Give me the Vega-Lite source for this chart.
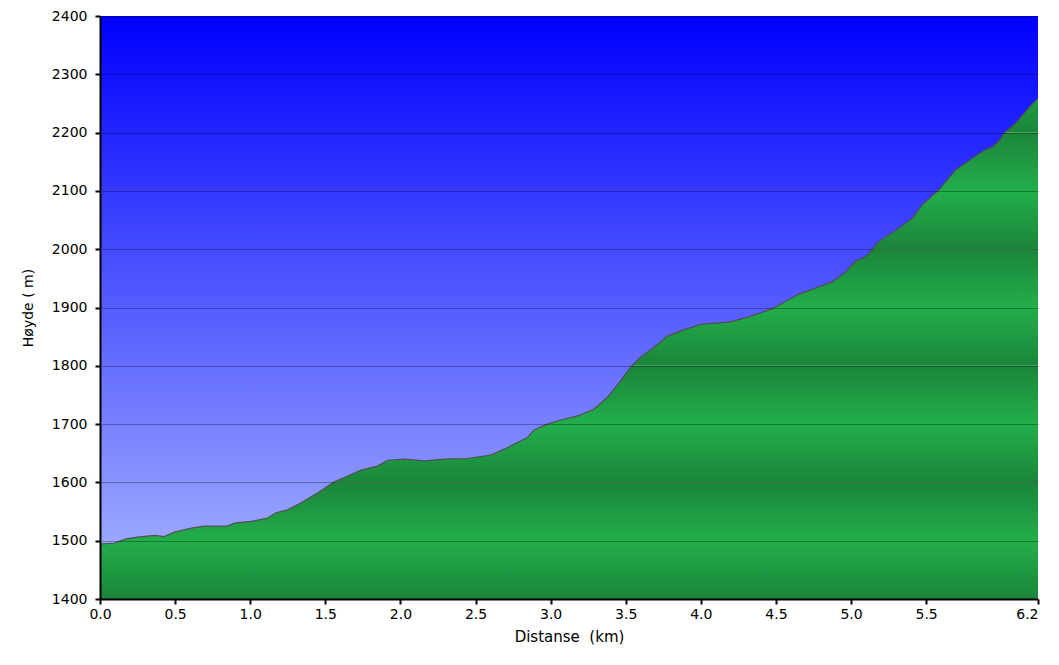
{
  "$schema": "https://vega.github.io/schema/vega-lite/v6.json",
  "width": 938,
  "height": 583,
  "autosize": "none",
  "padding": {"left": 100, "top": 16, "right": 21, "bottom": 66},
  "background": "#ffffff",
  "config": {
    "view": {"stroke": null},
    "font": "DejaVu Sans",
    "axis": {
      "labelFont": "DejaVu Sans",
      "titleFont": "DejaVu Sans",
      "labelColor": "#000000",
      "titleColor": "#000000",
      "titleFontWeight": "normal",
      "domainColor": "#000000",
      "domainWidth": 2,
      "tickColor": "#000000",
      "tickWidth": 2,
      "tickSize": 5,
      "labelFontSize": 14
    }
  },
  "datasets": {
    "profile": [
      {"d": 0.0, "elev": 1494},
      {"d": 0.096, "elev": 1496},
      {"d": 0.174, "elev": 1503},
      {"d": 0.251, "elev": 1506},
      {"d": 0.363, "elev": 1509},
      {"d": 0.429, "elev": 1507},
      {"d": 0.496, "elev": 1515},
      {"d": 0.617, "elev": 1522},
      {"d": 0.695, "elev": 1525},
      {"d": 0.850, "elev": 1525},
      {"d": 0.895, "elev": 1530},
      {"d": 1.006, "elev": 1533},
      {"d": 1.116, "elev": 1539},
      {"d": 1.172, "elev": 1548},
      {"d": 1.250, "elev": 1553},
      {"d": 1.339, "elev": 1565},
      {"d": 1.449, "elev": 1582},
      {"d": 1.560, "elev": 1601},
      {"d": 1.649, "elev": 1611},
      {"d": 1.738, "elev": 1621},
      {"d": 1.848, "elev": 1628},
      {"d": 1.915, "elev": 1638},
      {"d": 2.026, "elev": 1640},
      {"d": 2.159, "elev": 1637},
      {"d": 2.292, "elev": 1640},
      {"d": 2.447, "elev": 1641},
      {"d": 2.603, "elev": 1647},
      {"d": 2.691, "elev": 1657},
      {"d": 2.758, "elev": 1666},
      {"d": 2.846, "elev": 1677},
      {"d": 2.891, "elev": 1690},
      {"d": 2.979, "elev": 1700},
      {"d": 3.069, "elev": 1707},
      {"d": 3.179, "elev": 1714},
      {"d": 3.290, "elev": 1726},
      {"d": 3.379, "elev": 1746},
      {"d": 3.468, "elev": 1775},
      {"d": 3.534, "elev": 1798},
      {"d": 3.601, "elev": 1815},
      {"d": 3.689, "elev": 1832},
      {"d": 3.778, "elev": 1851},
      {"d": 3.889, "elev": 1862},
      {"d": 4.000, "elev": 1871},
      {"d": 4.188, "elev": 1875},
      {"d": 4.321, "elev": 1884},
      {"d": 4.476, "elev": 1898},
      {"d": 4.654, "elev": 1923},
      {"d": 4.876, "elev": 1944},
      {"d": 4.965, "elev": 1961},
      {"d": 5.031, "elev": 1980},
      {"d": 5.098, "elev": 1987},
      {"d": 5.186, "elev": 2013},
      {"d": 5.319, "elev": 2036},
      {"d": 5.408, "elev": 2053},
      {"d": 5.474, "elev": 2076},
      {"d": 5.585, "elev": 2102},
      {"d": 5.697, "elev": 2136},
      {"d": 5.807, "elev": 2156},
      {"d": 5.896, "elev": 2171},
      {"d": 5.940, "elev": 2175},
      {"d": 5.996, "elev": 2189},
      {"d": 6.018, "elev": 2199},
      {"d": 6.096, "elev": 2216},
      {"d": 6.162, "elev": 2236},
      {"d": 6.229, "elev": 2255},
      {"d": 6.245, "elev": 2258}
    ],
    "bands": [
      {"lo": 1400, "hi": 1600},
      {"lo": 1600, "hi": 1800},
      {"lo": 1800, "hi": 2000},
      {"lo": 2000, "hi": 2200},
      {"lo": 2200, "hi": 2400}
    ]
  },
  "layer": [
    {
      "data": {"name": "bands"},
      "mark": {
        "type": "rect",
        "fill": {
          "gradient": "linear", "x1": 0, "y1": 0, "x2": 0, "y2": 1,
          "stops": [
            {"offset": 0, "color": "#1b853a"},
            {"offset": 0.5, "color": "#22ae4b"},
            {"offset": 1, "color": "#1b853a"}
          ]
        }
      },
      "encoding": {
        "x": {"datum": 0, "type": "quantitative", "scale": {"domain": [0, 6.245], "nice": false, "zero": false}},
        "x2": {"datum": 6.245},
        "y": {"field": "lo", "type": "quantitative", "scale": {"domain": [1400, 2400], "nice": false, "zero": false}},
        "y2": {"field": "hi"}
      }
    },
    {
      "data": {"name": "profile"},
      "mark": {
        "type": "area",
        "fill": {
          "gradient": "linear", "x1": 0, "y1": 0, "x2": 0, "y2": 1,
          "stops": [
            {"offset": 0, "color": "#0000ff"},
            {"offset": 1, "color": "#9ba7ff"}
          ]
        }
      },
      "encoding": {
        "x": {"field": "d", "type": "quantitative"},
        "y": {"field": "elev", "type": "quantitative"},
        "y2": {"datum": 2400}
      }
    },
    {
      "data": {"name": "profile"},
      "mark": {"type": "line", "color": "#505050", "strokeWidth": 1.2},
      "encoding": {
        "x": {
          "field": "d", "type": "quantitative",
          "axis": {
            "title": "Distanse \u00a0(km)",
            "titleFontSize": 15,
            "titlePadding": 8,
            "values": [0, 0.5, 1, 1.5, 2, 2.5, 3, 3.5, 4, 4.5, 5, 5.5, 6.245],
            "labelExpr": "format(datum.value, '.1f')",
            "labelAlign": {"condition": {"test": "datum.value > 6", "value": "right"}, "value": "center"},
            "labelPadding": 3,
            "grid": false,
            "zindex": 2
          }
        },
        "y": {
          "field": "elev", "type": "quantitative",
          "axis": {
            "title": "Høyde ( m)",
            "titleFontSize": 14,
            "titlePadding": 16,
            "values": [1400, 1500, 1600, 1700, 1800, 1900, 2000, 2100, 2200, 2300, 2400],
            "format": "d",
            "labelPadding": 8,
            "grid": true,
            "gridColor": "#000000",
            "gridOpacity": 0.3,
            "gridWidth": 1,
            "zindex": 2
          }
        }
      }
    }
  ]
}
